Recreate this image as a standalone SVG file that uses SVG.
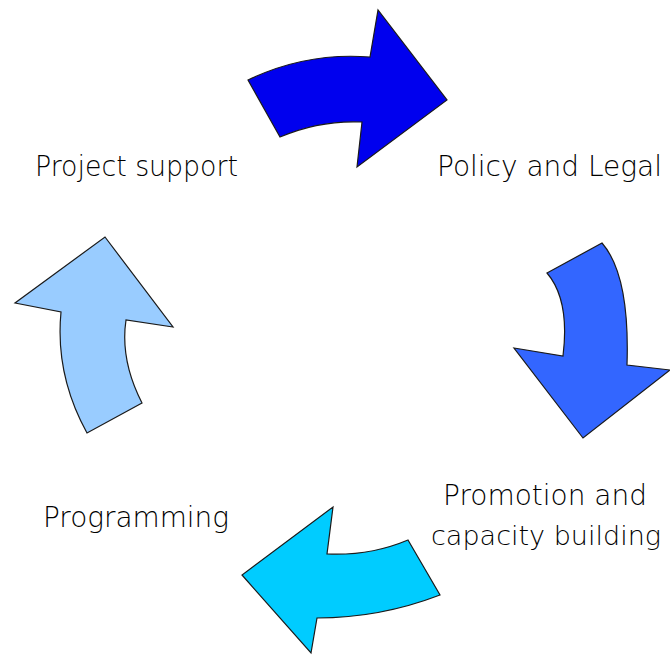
<svg xmlns="http://www.w3.org/2000/svg" width="670" height="663" viewBox="0 0 670 663">
<style>
.arr{stroke:#1a1a1a;stroke-width:1.2;stroke-linejoin:miter}
.lbl{font-family:"DejaVu Sans","Liberation Sans",sans-serif;font-weight:300;font-size:29px;fill:#000}
</style>
<rect width="670" height="663" fill="#ffffff"/>
<g id="connectors">
<path id="arrow-top" class="arr" fill="#0000EE" d="M248,80 Q306,52 370,57 L378,10 L447,100 L357,167 L362,122 Q320,120 280,137 Z"/>
<path id="arrow-right" class="arr" fill="#3366FF" d="M547,273 L602,243 Q630,275 627,365 L670,370 L583,438 L514,348 L563,356 Q570,300 547,273 Z"/>
<path id="arrow-bottom" class="arr" fill="#00CCFF" d="M408,540 L440,595 Q380,618 317,618 L311,653 L242,575 L333,507 L327,554 Q370,556 408,540 Z"/>
<path id="arrow-left" class="arr" fill="#99CCFF" d="M105,237 L173,327 L126,320 Q120,360 142,403 L87,433 Q55,375 61,312 L15,303 Z"/>
</g>
<g id="node-project-support"><text class="lbl" x="35" y="176" textLength="203" lengthAdjust="spacingAndGlyphs">Project support</text></g>
<g id="node-policy-legal"><text class="lbl" x="437" y="176" textLength="225" lengthAdjust="spacingAndGlyphs">Policy and Legal</text></g>
<g id="node-promotion"><text class="lbl" x="443" y="505" textLength="204" lengthAdjust="spacingAndGlyphs">Promotion and</text><text class="lbl" x="431" y="545" font-size="27" style="font-size:27px" textLength="230" lengthAdjust="spacingAndGlyphs">capacity building</text></g>
<g id="node-programming"><text class="lbl" x="43" y="527" textLength="186" lengthAdjust="spacingAndGlyphs">Programming</text></g>
</svg>
